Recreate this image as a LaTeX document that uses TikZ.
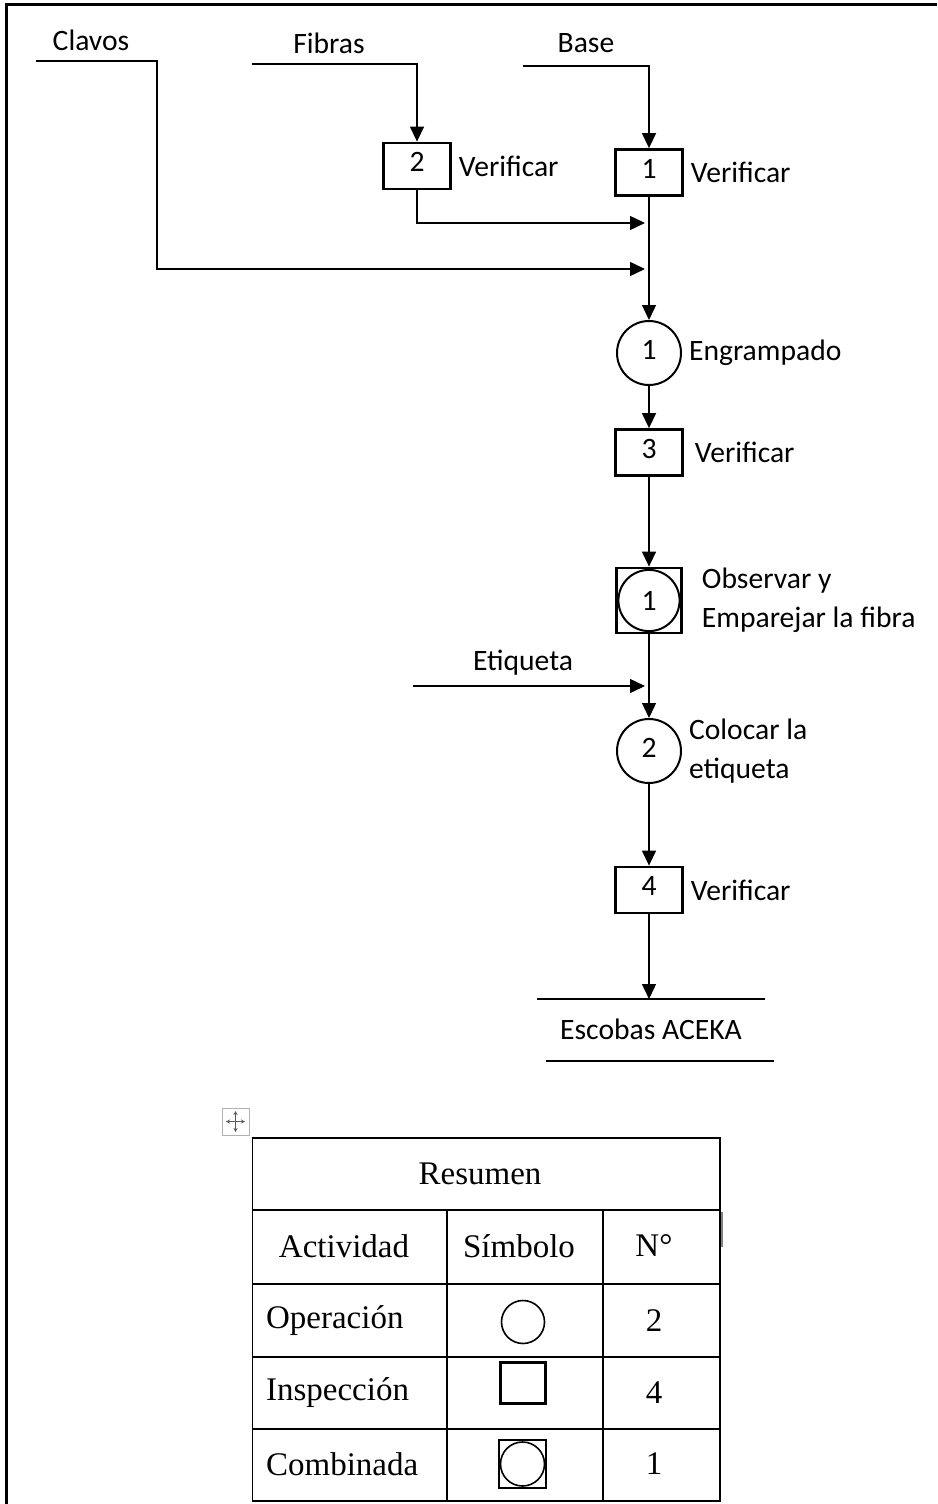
\documentclass[tikz,border=0pt]{standalone}
\usepackage{fontspec}
\setmainfont{Carlito}
\newfontfamily\tablefont{Liberation Serif}
\usetikzlibrary{arrows.meta,positioning}

\begin{document}
\begin{tikzpicture}[x=0.5pt,y=-0.5pt,
    font=\fontsize{14.8}{19.5}\selectfont,
    flow/.style={line width=0.7pt,-{Triangle[length=7.5pt,width=7pt]}},
    inspect/.style={draw,line width=1.4pt,minimum width=33.5pt,minimum height=23pt,inner sep=0pt,text depth=4pt},
    operate/.style={draw,circle,line width=1pt,minimum size=32pt,inner sep=0pt,text depth=3pt},
    combined/.style={draw,line width=1.4pt,minimum size=32.5pt,inner sep=0pt,
        path picture={\draw[line width=1pt] (path picture bounding box.center) circle[radius=15.3pt];}},
    cell/.style={font=\tablefont\fontsize{16.5}{20}\selectfont},
    every label/.style={black}]

\useasboundingbox (0,0) rectangle (937,1504);
\draw[line width=1.5pt] (937,5) -- (6,5) -- (6,1504);

% Inputs
\node (clavos) at (91,40) {Clavos};
\node (fibras) at (329,43) {Fibras};
\node (base) at (586,43) {Base};
\coordinate (clavosL) at (36,61);
\coordinate (clavosR) at (157,61);
\coordinate (fibrasL) at (252,64);
\coordinate (baseL) at (523,66);

% Inspections & operations
\node[  inspect,
        label=right:Verificar
    ] (insp2) at (417,166) {2};
\node[  inspect,
        label=right:Verificar
    ] (insp1) at (649,172.5) {1};
\node[  operate,
        label=right:Engrampado
    ] (op1) at (649,353) {1};
\node[  inspect,
        label={[label distance=2pt]right:Verificar}
    ] (insp3) at (649,452.5) {3};
\node[  combined,
        label={[align=left,label distance=6pt]right:{Observar y\\Emparejar la fibra}}
    ] (comb1) at (649,600.5) {1};
\node[  operate,
        label={[align=left]right:{Colocar la\\etiqueta}}
    ] (op2) at (649,751) {2};
\node[  inspect,
        label=right:Verificar
    ] (insp4) at (649,890) {4};

\node (etiqueta) at (523,663) {Etiqueta};
\coordinate (etiqL) at (413,686);
\coordinate (etiqIn) at (645,686);
\coordinate (merge2) at (645,223);
\coordinate (merge3) at (645,269);
\coordinate (fin) at (649,999);

% Arcs
\draw[flow] (clavosL) -- (clavosR) |- (merge3);
\draw[flow] (fibrasL) -| (insp2);
\draw[flow] (baseL) -| (insp1);
\draw[flow] (insp2) |- (merge2);
\draw[flow] (insp1) -- (op1);
\draw[flow] (op1) -- (insp3);
\draw[flow] (insp3) -- (comb1);
\draw[flow] (comb1) -- (op2);
\draw[flow] (etiqL) -- (etiqIn);
\draw[flow] (op2) -- (insp4);
\draw[flow] (insp4) -- (fin);

% Output
\draw[line width=0.7pt] (537,999) -- (765,999);
\node (escobas) at (651,1029) {Escobas ACEKA};
\draw[line width=0.7pt] (546,1061) -- (774,1061);

% Summary table
\draw[gray!60,line width=0.5pt] (222,1108) rectangle (249,1135);
\draw[gray!70!black,line width=0.4pt,{Stealth[length=2pt,width=2pt]}-{Stealth[length=2pt,width=2pt]}] (226,1121.5) -- (245,1121.5);
\draw[gray!70!black,line width=0.4pt,{Stealth[length=2pt,width=2pt]}-{Stealth[length=2pt,width=2pt]}] (235.5,1111) -- (235.5,1132);
\draw[gray,line width=0.6pt] (722,1212) -- (722,1247);

\draw[line width=0.9pt] (252.5,1138) rectangle (720,1501);
\foreach \y in {1210,1284,1357,1429}
    \draw[line width=0.9pt] (252.5,\y) -- (720,\y);
\draw[line width=0.9pt] (447,1210) -- (447,1501) (603,1210) -- (603,1501);

\node[cell] (resumen) at (480,1174) {Resumen};
\node[cell] (actividad) at (344,1246) {Actividad};
\node[cell] (simbolo) at (519,1246) {Símbolo};
\node[cell] (numero) at (654,1246) {N°};
\node[cell,anchor=west] (operacion) at (259,1321) {Operación};
\node[cell,anchor=west] (inspeccion) at (259,1393) {Inspección};
\node[cell,anchor=west] (combinada) at (259,1464) {Combinada};
\node[draw,circle,line width=0.8pt,minimum size=21.5pt,inner sep=0pt] (symop) at (523,1322) {};
\node[draw,line width=1.2pt,minimum width=22.5pt,minimum height=20.5pt,inner sep=0pt] (symin) at (523,1383) {};
\node[combined,line width=1.2pt,minimum width=23.5pt,minimum height=24pt,
    path picture={\draw[line width=0.8pt] (path picture bounding box.center) circle[radius=11pt];}] (symcomb) at (522.5,1464) {};
\node[cell] (numop) at (654,1321) {2};
\node[cell] (numin) at (654,1393) {4};
\node[cell] (numcomb) at (654,1464) {1};

\end{tikzpicture}
\end{document}
